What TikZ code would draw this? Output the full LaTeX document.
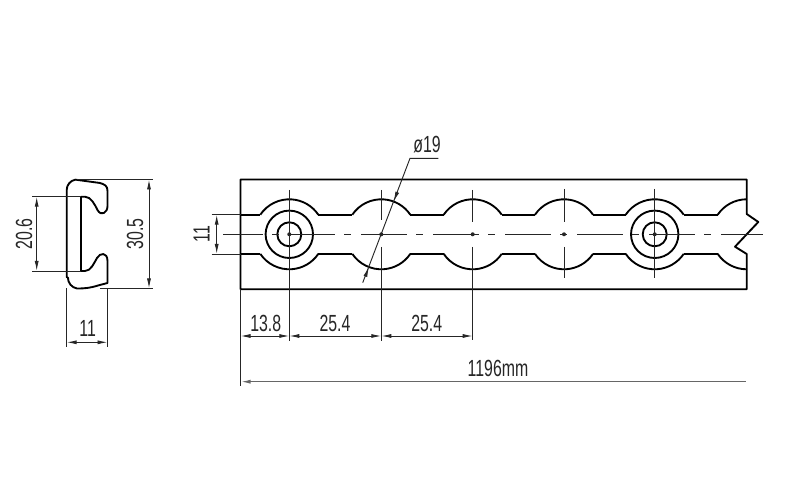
\documentclass[tikz,border=0pt]{standalone}
\usepackage{fontspec}
\setmainfont{Liberation Sans}
\usetikzlibrary{arrows.meta}
\tikzset{
	outline/.style={line width=1.4pt,line join=round},
	thinline/.style={line width=.7pt,black!85},
	dimtip/.tip={Latex[length=7.5pt,width=3pt]},
	dimline/.style={thinline,dimtip-dimtip},
	dimfont/.style={inner sep=0pt,black!85,font=\fontsize{17.5}{18}\selectfont},
	dimtext/.style={dimfont,xscale=.68},
	dimtextrot/.style={dimfont,rotate=90,xscale=.68},
	centerline/.style={line width=.85pt,black!85,dash pattern=on 34.5pt off 6.75pt on 5pt off 7.75pt,dash phase=4.5pt}
}
\begin{document}
\begin{tikzpicture}[x=.75pt,y=.75pt]
	\useasboundingbox (0,0) rectangle (787,499);
	\fill[white] (0,0) rectangle (787,499);

	% end view
	\draw[outline] (66.7,222) -- (66.7,309) arc[start angle=180,end angle=100,radius=10.5]
		-- (100,316) .. controls (105,314.5) and (107.5,313) .. (107.5,308)
		-- (107.5,293) .. controls (107.5,286) and (101,282.5) .. (97.5,289)
		.. controls (95,294) and (91,302.3) .. (85,302.3) -- (81,302.3) -- (81,228) -- (85,228)
		.. controls (91,228) and (94,236) .. (97,241) .. controls (100,246.5) and (107.5,247) .. (107.5,238)
		-- (107.5,216) -- (98,213.5) .. controls (90,211) and (85,210.5) .. (77,210.5)
		arc[start angle=-100,end angle=-180,radius=11] -- cycle;
	\draw[thinline] (32,302.3) -- (81,302.3);
	\draw[thinline] (32,228) -- (81,228);
	\draw[thinline] (77,319.5) -- (153,319.5);
	\draw[thinline] (100,210.5) -- (153,210.5);
	\draw[thinline] (66.7,210.5) -- (66.7,152);
	\draw[thinline] (107.5,210.5) -- (107.5,152);
	\draw[dimline] (36.7,302.3) -- (36.7,228);
	\draw[dimline] (149,319.5) -- (149,210.5);
	\draw[dimline] (66.7,156.7) -- (107.5,156.7);
	\node[dimtextrot] (lblprofileslot) at (24,265) {20.6};
	\node[dimtextrot] (lblprofileheight) at (135,265) {30.5};
	\node[dimtext] (lblprofilewidth) at (87.7,171) {11};

	% rail
	\draw[outline] (746.7,285) -- (746.7,319.5) -- (240.5,319.5) -- (240.5,209.7) -- (746.7,209.7) -- (746.7,245)
		-- (735,252.3) -- (758.3,277) -- cycle;
	\foreach \xa/\xb in {240.5/260.3,318.3/352.3,410.3/443.7,501.7/535,593/625.7,683.7/717.7}{
		\draw[outline] (\xa,284.3) -- (\xb,284.3);
		\draw[outline] (\xa,245) -- (\xb,245);
	}
	\foreach \hx in {289.3,381.3,472.7,564,654.7}{
		\draw[outline] (\hx,264.7) ++(145.94:35) arc[start angle=145.94,end angle=34.06,radius=35];
		\draw[outline] (\hx,264.7) ++(-145.94:35) arc[start angle=-145.94,end angle=-34.06,radius=35];
		\fill[black!85] (\hx,264.7) circle (2);
	}
	\draw[outline] (746.7,264.7) ++(145.94:35) arc[start angle=145.94,end angle=90,radius=35];
	\draw[outline] (746.7,264.7) ++(-145.94:35) arc[start angle=-145.94,end angle=-90,radius=35];
	\foreach \hx in {289.3,654.7}{
		\draw[outline] (\hx,264.7) circle (23.7);
		\draw[outline] (\hx,264.7) circle (12);
	}

	% center lines
	\draw[centerline] (223,264.7) -- (763,264.7);
	\draw[thinline] (289.3,309) -- (289.3,158);
	\draw[thinline] (654.7,310) -- (654.7,221);
	\draw[thinline] (381.3,309) -- (381.3,279);
	\draw[thinline] (381.3,252) -- (381.3,158);
	\draw[thinline] (472.7,309) -- (472.7,277);
	\draw[thinline] (472.7,252) -- (472.7,159);
	\draw[thinline] (564,310) -- (564,277);
	\draw[thinline] (564,252) -- (564,221);
	\draw[thinline] (240.5,209.7) -- (240.5,113);

	% dimensions
	\draw[thinline] (211.7,284.3) -- (240.5,284.3);
	\draw[thinline] (211.7,245) -- (240.5,245);
	\draw[dimline] (216.7,284.3) -- (216.7,245);
	\node[dimtextrot] (lblslot) at (201.7,265) {11};
	\draw[dimline] (240.5,163) -- (289.3,163);
	\draw[dimline] (289.3,163) -- (381.3,163);
	\draw[dimline] (381.3,163) -- (472.7,163);
	\node[dimtext] (lblfirst) at (265.7,176) {13.8};
	\node[dimtext] (lblpitcha) at (335,176) {25.4};
	\node[dimtext] (lblpitchb) at (426.7,176) {25.4};
	\draw[line width=1pt,black!60,dimtip-] (240.5,117.3) -- (746,117.3);
	\node[dimtext] (lbllength) at (498,131) {1196mm};

	% hole diameter
	\draw[thinline] (362.7,216.3) -- (410,340.7) -- (438.3,340.7);
	\draw[thinline,-dimtip] (397.25,306.75) -- (393.7,297.4);
	\draw[thinline,-dimtip] (365.35,222.65) -- (368.9,232);
	\node[dimtext] (lbldia) at (427,354) {ø19};
\end{tikzpicture}
\end{document}
